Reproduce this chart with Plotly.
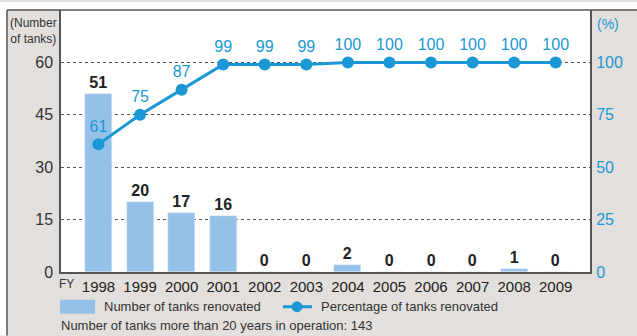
import plotly.graph_objects as go

# Fiscal years and series values
years = ["1998", "1999", "2000", "2001", "2002", "2003",
         "2004", "2005", "2006", "2007", "2008", "2009"]
tanks_renovated = [51, 20, 17, 16, 0, 0, 2, 0, 0, 0, 1, 0]
pct_renovated = [61, 75, 87, 99, 99, 99, 100, 100, 100, 100, 100, 100]
left_ticks = [0, 15, 30, 45, 60]
right_ticks = [0, 25, 50, 75, 100]

BAR = "#94c1e7"
LINE = "#1a98d5"
PANEL = "#e3dfdc"
FRAME = "#555555"
FONT = "Liberation Sans, Arial, sans-serif"

xpos = list(range(len(years)))

fig = go.Figure()
fig.add_trace(go.Bar(
    x=xpos, y=tanks_renovated, width=0.65, marker_color=BAR,
    text=[str(v) for v in tanks_renovated], textposition="outside",
    textfont=dict(family=FONT, size=16, color="#222222", weight="bold"),
    cliponaxis=False, constraintext="none",
    showlegend=False, yaxis="y",
))
fig.add_trace(go.Scatter(
    x=xpos, y=pct_renovated, mode="lines+markers+text",
    line=dict(color=LINE, width=3), marker=dict(color=LINE, size=12),
    text=[str(v) for v in pct_renovated], textposition="top center",
    textfont=dict(family=FONT, size=16, color=LINE),
    cliponaxis=False, showlegend=False, yaxis="y2",
))

W, H = 637, 336
L, R, T, B = 61, 590, 8, 272
pw, ph = R - L, B - T


def px(x):
    return (x - L) / pw


def py(y):
    return (B - y) / ph


shapes = [
    # white strips outside the grey panel
    dict(type="rect", xref="paper", yref="paper", x0=px(0), x1=px(W), y0=py(T), y1=py(0),
         fillcolor="white", line_width=0, layer="above"),
    dict(type="rect", xref="paper", yref="paper", x0=px(0), x1=px(7), y0=py(H), y1=py(0),
         fillcolor="white", line_width=0, layer="above"),
    # panel frame
    dict(type="line", xref="paper", yref="paper", x0=px(7), x1=px(W), y0=py(T), y1=py(T),
         line=dict(color=FRAME, width=1.5)),
    dict(type="line", xref="paper", yref="paper", x0=px(7), x1=px(7), y0=py(T), y1=py(H),
         line=dict(color=FRAME, width=1.5)),
    # legend swatches
    dict(type="rect", xref="paper", yref="paper", x0=px(60), x1=px(95), y0=py(314), y1=py(300),
         fillcolor=BAR, line_width=0),
    dict(type="line", xref="paper", yref="paper", x0=px(283), x1=px(312), y0=py(307), y1=py(307),
         line=dict(color=LINE, width=3)),
    dict(type="circle", xref="paper", yref="paper", x0=px(291.5), x1=px(302.5), y0=py(312.5), y1=py(301.5),
         fillcolor=LINE, line_width=0),
]


def note(text, x, y, anchor="left", size=13, color="#333333", align="left"):
    return dict(text=text, x=px(x), y=py(y), xref="paper", yref="paper", showarrow=False,
                xanchor=anchor, yanchor="middle", align=align,
                font=dict(family=FONT, size=size, color=color))


annotations = [
    note("(Number<br>of tanks)", 33, 29, anchor="center", size=12, align="center"),
    note("(%)", 595, 22, size=14, color=LINE),
    note("FY", 57, 284, size=12),
    note("Number of tanks renovated", 102, 307),
    note("Percentage of tanks renovated", 319, 307),
    note("Number of tanks more than 20 years in operation: 143", 59, 326),
]

fig.update_layout(
    width=W, height=H,
    margin=dict(l=L, r=W - R, t=T, b=H - B, pad=0),
    paper_bgcolor=PANEL, plot_bgcolor="white",
    font=dict(family=FONT, color="#333333"),
    bargap=0,
    xaxis=dict(
        range=[-0.902, 11.825], tickvals=xpos, ticktext=years,
        tickfont=dict(family=FONT, size=15, color="#222222"),
        showgrid=False, zeroline=False, showline=True, mirror=True,
        linecolor=FRAME, linewidth=1.5, ticks="",
    ),
    yaxis=dict(
        range=[0, 75], tickvals=left_ticks, ticktext=[str(v) for v in left_ticks],
        tickfont=dict(family=FONT, size=16, color="#333333"),
        showgrid=True, gridcolor=FRAME, griddash="dot", gridwidth=1,
        zeroline=False, showline=True, mirror=True, linecolor=FRAME, linewidth=1.5,
        ticks="outside", ticklen=3, tickcolor="rgba(0,0,0,0)",
    ),
    yaxis2=dict(
        range=[0, 125], tickvals=right_ticks, ticktext=[str(v) for v in right_ticks],
        overlaying="y", side="right",
        tickfont=dict(family=FONT, size=16, color=LINE),
        showgrid=False, zeroline=False, showline=False,
        ticks="outside", ticklen=2, tickcolor="rgba(0,0,0,0)",
    ),
    shapes=shapes, annotations=annotations,
)

fig.write_html("out.html")
